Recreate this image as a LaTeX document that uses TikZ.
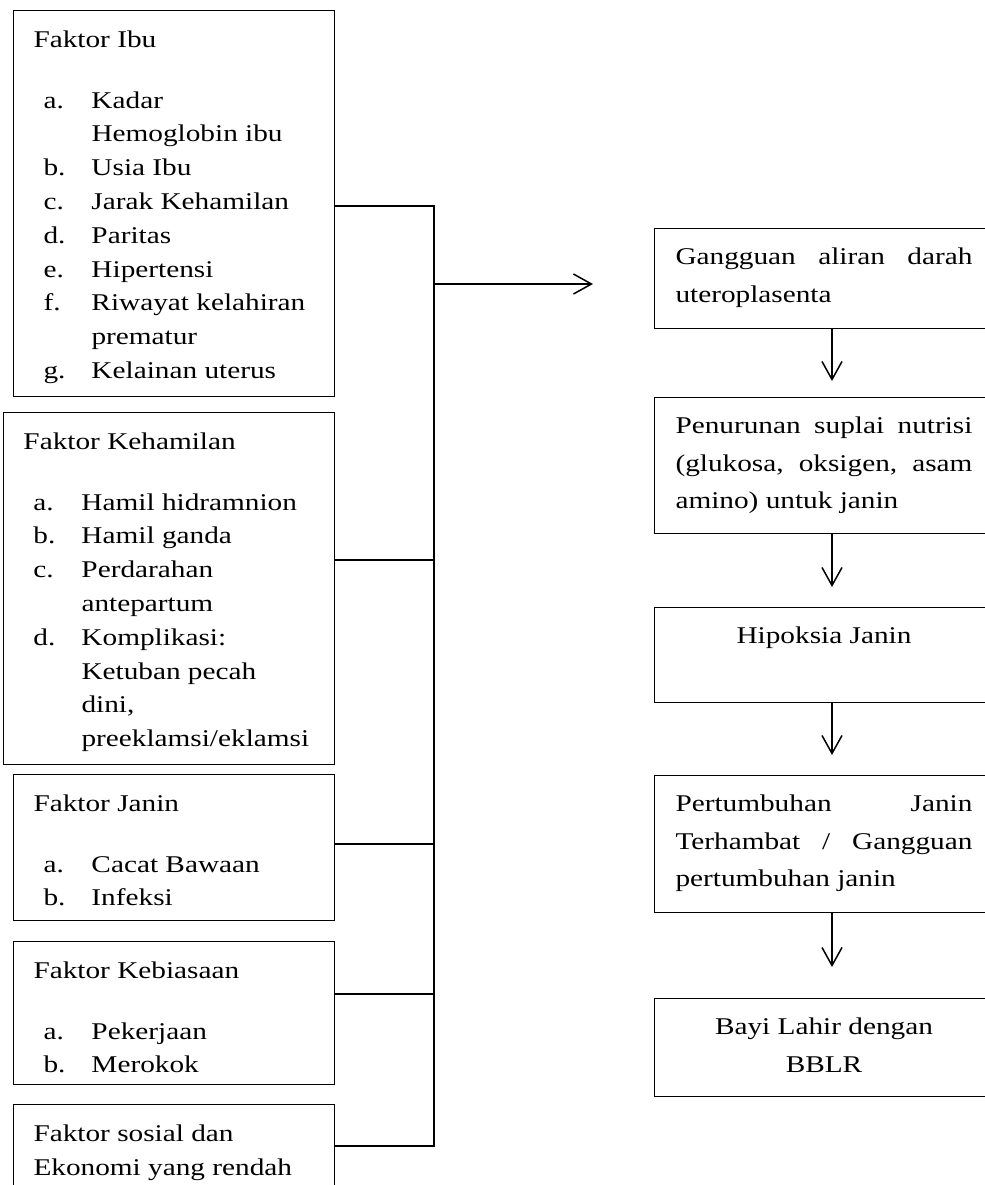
\documentclass[tikz,border=0pt]{standalone}
\usepackage{fontspec}
\setmainfont[FakeStretch=1.22]{Liberation Serif}
\usetikzlibrary{arrows.meta}

\newcommand{\kiri}[3]{\parbox[c][#1][t]{#2}{\fontsize{12pt}{16.9pt}\selectfont\rule{0pt}{18.5pt}#3}}
\newcommand{\kanan}[3]{\parbox[c][#1][t]{148.5pt}{\fontsize{12pt}{18.75pt}\selectfont\tolerance=10000\hyphenpenalty=10000#2\rule{0pt}{18pt}#3}}
\newcommand{\itm}[2]{\hspace*{5pt}\makebox[24pt][l]{#1}#2}
\newcommand{\lanjut}[1]{\hspace*{29pt}#1}

\begin{document}
\begin{tikzpicture}[x=0.5pt, y=-0.5pt,
		lbox/.style={draw, line width=0.5pt, anchor=north west, inner xsep=10pt, inner ysep=0pt},
		rbox/.style={draw, line width=0.5pt, anchor=north west, inner xsep=10.5pt, inner ysep=0pt},
		conn/.style={line width=0.75pt},
		arr/.style={-{Straight Barb[length=9pt, width=10pt]}}]
		\useasboundingbox (0,0) rectangle (985,1185);
		\clip (0,0) rectangle (985,1185);
		\def\gap{13.4pt};

		\node[lbox] (ibu) at (13,10) {\kiri{193pt}{140.5pt}{Faktor Ibu\\[\gap]
			\itm{a.}{Kadar}\\ \lanjut{Hemoglobin ibu}\\
			\itm{b.}{Usia Ibu}\\ \itm{c.}{Jarak Kehamilan}\\
			\itm{d.}{Paritas}\\ \itm{e.}{Hipertensi}\\
			\itm{f.}{Riwayat kelahiran}\\ \lanjut{prematur}\\
			\itm{g.}{Kelainan uterus}}};
		\node[lbox] (hamil) at (3,412) {\kiri{176pt}{145.5pt}{Faktor Kehamilan\\[\gap]
			\itm{a.}{Hamil hidramnion}\\ \itm{b.}{Hamil ganda}\\
			\itm{c.}{Perdarahan}\\ \lanjut{antepartum}\\
			\itm{d.}{Komplikasi:}\\ \lanjut{Ketuban pecah}\\ \lanjut{dini,}\\ \lanjut{preeklamsi/eklamsi}}};
		\node[lbox] (janin) at (13,774) {\kiri{73pt}{140.5pt}{Faktor Janin\\[\gap]
			\itm{a.}{Cacat Bawaan}\\ \itm{b.}{Infeksi}}};
		\node[lbox] (biasa) at (13,941) {\kiri{71.5pt}{140.5pt}{Faktor Kebiasaan\\[\gap]
			\itm{a.}{Pekerjaan}\\ \itm{b.}{Merokok}}};
		\node[lbox] (sosial) at (13,1104) {\kiri{100pt}{140.5pt}{Faktor sosial dan\\ Ekonomi yang rendah}};

		\node[rbox] (aliran) at (654,228) {\kanan{50pt}{}{Gangguan aliran darah\linebreak uteroplasenta}};
		\node[rbox] (nutrisi) at (654,397) {\kanan{68pt}{}{Penurunan suplai nutrisi\linebreak (glukosa, oksigen, asam\linebreak amino) untuk janin}};
		\node[rbox] (hipoksia) at (654,607) {\kanan{47.5pt}{\centering}{Hipoksia Janin}};
		\node[rbox] (tumbuh) at (654,775) {\kanan{68.5pt}{}{Pertumbuhan Janin\linebreak Terhambat / Gangguan\linebreak pertumbuhan janin}};
		\node[rbox] (bblr) at (654,998) {\kanan{49pt}{\centering}{Bayi Lahir dengan\\ BBLR}};

		\coordinate (j1) at (434,206);
		\coordinate (j2) at (434,560);
		\coordinate (j3) at (434,844);
		\coordinate (j4) at (434,994);
		\coordinate (j5) at (434,1146);
		\coordinate (ujung) at (593,284);

		\draw[conn] (ibu.east |- j1) -- (j1) -- (j5) -- (sosial.east |- j5);
		\draw[conn] (hamil.east |- j2) -- (j2);
		\draw[conn] (janin.east |- j3) -- (j3);
		\draw[conn] (biasa.east |- j4) -- (j4);
		\draw[conn, arr] (j1 |- ujung) -- (ujung);

		\draw[conn, arr] ([xshift=4pt]aliran.south) -- ([xshift=4pt, yshift=8pt]nutrisi.north);
		\draw[conn, arr] ([xshift=4pt]nutrisi.south) -- ([xshift=4pt, yshift=10pt]hipoksia.north);
		\draw[conn, arr] ([xshift=4pt]hipoksia.south) -- ([xshift=4pt, yshift=10pt]tumbuh.north);
		\draw[conn, arr] ([xshift=4pt]tumbuh.south) -- ([xshift=4pt, yshift=15.5pt]bblr.north);
	\end{tikzpicture}
\end{document}
